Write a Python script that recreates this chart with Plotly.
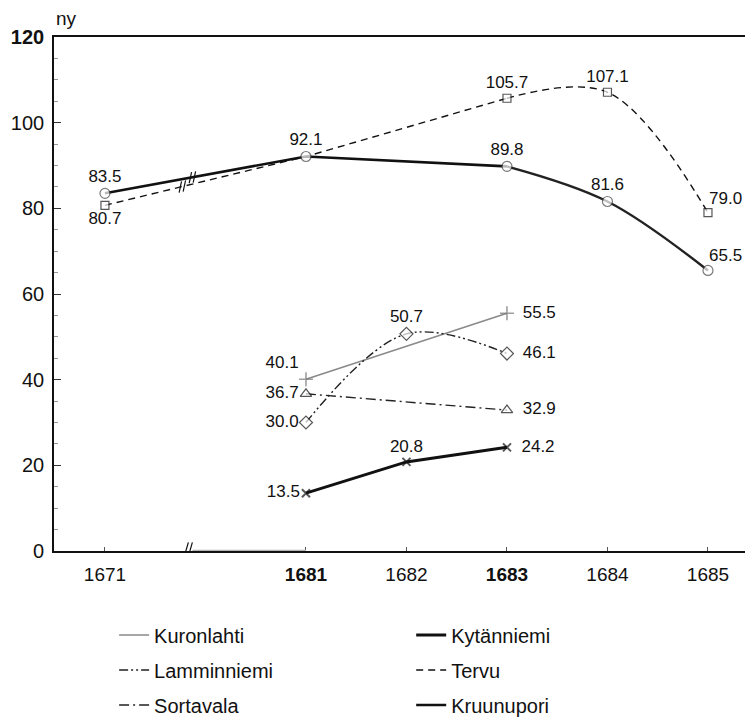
import plotly.graph_objects as go

# ---- data ----
year_ticks = [1671, 1681, 1682, 1683, 1684, 1685]
year_ticktext = ["1671", "<b>1681</b>", "1682", "<b>1683</b>", "1684", "1685"]

kuronlahti_years = [1681, 1683]
kuronlahti_vals = [40.1, 55.5]

kytanniemi_years = [1681, 1682, 1683]
kytanniemi_vals = [13.5, 20.8, 24.2]

lamminniemi_years = [1681, 1682, 1683]
lamminniemi_vals = [30.0, 50.7, 46.1]

tervu_years = [1671, 1681, 1683, 1684, 1685]
tervu_vals = [80.7, 92.1, 105.7, 107.1, 79.0]

sortavala_years = [1681, 1683]
sortavala_vals = [36.7, 32.9]

kruunupori_years = [1671, 1681, 1683, 1684, 1685]
kruunupori_vals = [83.5, 92.1, 89.8, 81.6, 65.5]

y_ticks = [0, 20, 40, 60, 80, 100, 120]

FONT = "Liberation Sans, Arial, sans-serif"
BREAK_POS = 0.82


def pos(year):
    # broken axis: 1671 sits two units left of 1681
    return 0 if year == 1671 else year - 1679


def P(years):
    return [pos(y) for y in years]


def fmt(v):
    return f"{v:.1f}"


fig = go.Figure()
annotations = []

# ---- line traces (legend entries) ----
def add_line(name, xs, ys, color, width, dash, legend, shape="linear", showlegend=True):
    fig.add_trace(go.Scatter(
        x=xs, y=ys, mode="lines", name=name, legend=legend,
        legendgroup=name, showlegend=showlegend,
        line=dict(color=color, width=width, dash=dash, shape=shape, smoothing=1.0),
        hoverinfo="skip"))

DASHDOTDOT = "9px,3px,2px,3px,2px,3px"
DASHDOT = "10px,4px,2px,4px"

add_line("Kuronlahti", P(kuronlahti_years), kuronlahti_vals, "#8a8a8a", 1.6, "solid", "legend")
add_line("Lamminniemi", P(lamminniemi_years), lamminniemi_vals, "#222", 1.4, DASHDOTDOT, "legend", shape="spline")
add_line("Sortavala", P(sortavala_years), sortavala_vals, "#222", 1.4, DASHDOT, "legend")

add_line("Kytänniemi", P(kytanniemi_years), kytanniemi_vals, "#111", 3.0, "solid", "legend2")
add_line("Tervu", P(tervu_years[:3]), tervu_vals[:3], "#111", 1.4, "7px,5px", "legend2")
add_line("Tervu", P(tervu_years[2:]), tervu_vals[2:], "#111", 1.4, "7px,5px", "legend2",
         shape="spline", showlegend=False)
add_line("Kruunupori", P(kruunupori_years[:3]), kruunupori_vals[:3], "#111", 2.6, "solid", "legend2")
add_line("Kruunupori", P(kruunupori_years[2:]), kruunupori_vals[2:], "#222", 2.4, "solid", "legend2",
         shape="spline", showlegend=False)

# ---- marker + label traces ----
def add_marks(name, years, vals, symbol, size, positions, fill="white", lcolor="#111", lwidth=1.2,
              hide=None, right_labels=None):
    sizes = [size] * len(vals)
    texts = [fmt(v) for v in vals]
    for i, p in enumerate(positions):
        if p == "middle right":
            texts[i] = "\u2002" + texts[i]
    for i in (hide or []):
        sizes[i] = 0
        texts[i] = ""
    for i in (right_labels or []):
        # label placed just up-right of the marker, drawn as annotation
        annotations.append(dict(x=pos(years[i]), y=vals[i], xref="x", yref="y", text=fmt(vals[i]),
                                showarrow=False, xanchor="left", yanchor="bottom",
                                xshift=-1, yshift=3,
                                font=dict(family=FONT, size=17, color="#111")))
        texts[i] = ""
    fig.add_trace(go.Scatter(
        x=P(years), y=vals, mode="markers+text", showlegend=False, name=name,
        marker=dict(symbol=symbol, size=sizes, color=fill, line=dict(color=lcolor, width=lwidth)),
        text=texts, textposition=positions, cliponaxis=False,
        textfont=dict(family=FONT, size=17, color="#111")))

add_marks("Kuronlahti", kuronlahti_years, kuronlahti_vals, "cross-thin", 10,
          ["top left", "middle right"], lcolor="#777", lwidth=1.6)
add_marks("Sortavala", sortavala_years, sortavala_vals, "triangle-up", 10,
          ["middle left", "middle right"])
add_marks("Lamminniemi", lamminniemi_years, lamminniemi_vals, "diamond", 10,
          ["middle left", "top center", "middle right"])
add_marks("Kytänniemi", kytanniemi_years, kytanniemi_vals, "x-thin", 8,
          ["middle left", "top center", "middle right"], lwidth=2)
add_marks("Tervu", tervu_years, tervu_vals, "square", 8,
          ["bottom center", "top center", "top center", "top center", "top right"],
          hide=[1], right_labels=[4])
add_marks("Kruunupori", kruunupori_years, kruunupori_vals, "circle", 10,
          ["top center", "top center", "top center", "top center", "top right"],
          lcolor="#444", right_labels=[4])

# ---- axis-break decorations (short slashes) ----
def slash(xc, yc, color="#111", dx=0.025, dy=1.6):
    fig.add_shape(type="line", xref="x", yref="y", x0=xc - dx, x1=xc + dx, y0=yc - dy, y1=yc + dy,
                  line=dict(color=color, width=1.2))

# on the x axis
slash(BREAK_POS - 0.015, 0, dy=2.0)
slash(BREAK_POS + 0.025, 0, dy=2.0)
fig.add_shape(type="line", xref="x", yref="y", x0=BREAK_POS + 0.05, x1=pos(1681), y0=0, y1=0,
              line=dict(color="#b5b5b5", width=2.5))
# on the two lines crossing the break
for (yrs, vals), bx in (((kruunupori_years, kruunupori_vals), BREAK_POS + 0.05),
                        ((tervu_years, tervu_vals), BREAK_POS - 0.05)):
    x0, x1 = pos(yrs[0]), pos(yrs[1])
    for off in (-0.02, 0.02):
        xb = bx + off
        yb = vals[0] + (vals[1] - vals[0]) * (xb - x0) / (x1 - x0)
        slash(xb, yb, dx=0.012, dy=1.3)

annotations.append(dict(x=0.018, y=1.0, xref="paper", yref="paper", yanchor="bottom", xanchor="center",
                        yshift=6, text="ny", showarrow=False,
                        font=dict(family=FONT, size=19, color="#111")))

# the page body adds an 8px margin, so the figure is 8px smaller and the margins compensate
fig.update_layout(
    width=745, height=717,
    margin=dict(l=46, r=0, t=29, b=166),
    paper_bgcolor="white", plot_bgcolor="white",
    font=dict(family=FONT, size=17, color="#111"),
    annotations=annotations,
    xaxis=dict(range=[-0.507, 6.448], tickmode="array", tickvals=P(year_ticks),
               ticktext=year_ticktext, ticks="inside", ticklen=4, tickcolor="#555",
               showline=True, linecolor="#111", linewidth=1.6, mirror=True,
               showgrid=False, zeroline=False, ticklabelstandoff=5,
               tickfont=dict(family=FONT, size=19, color="#111")),
    yaxis=dict(range=[0, 120], tickmode="array", tickvals=y_ticks,
               ticktext=[str(v) if v != 120 else "<b>120</b>" for v in y_ticks],
               ticks="inside", ticklen=7, tickcolor="#333",
               minor=dict(tickmode="linear", tick0=0, dtick=5, ticks="inside", ticklen=4,
                          tickcolor="#999"),
               showline=True, linecolor="#111", linewidth=1.6, mirror=False,
               showgrid=False, zeroline=False, ticklabelstandoff=4,
               tickfont=dict(family=FONT, size=20, color="#111")),
    legend=dict(x=0.086, y=-0.1255, xanchor="left", yanchor="top", orientation="v",
                tracegroupgap=6, font=dict(family=FONT, size=20, color="#111"),
                bgcolor="rgba(0,0,0,0)"),
    legend2=dict(x=0.511, y=-0.1255, xanchor="left", yanchor="top", orientation="v",
                 tracegroupgap=6, font=dict(family=FONT, size=20, color="#111"),
                 bgcolor="rgba(0,0,0,0)"),
)

fig.write_html("out.html")
